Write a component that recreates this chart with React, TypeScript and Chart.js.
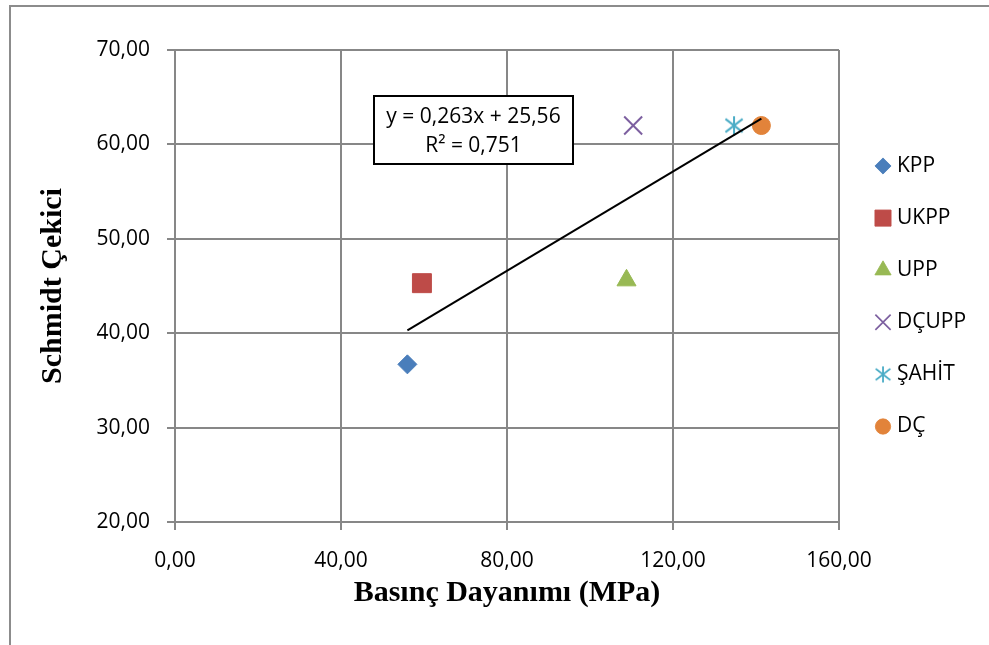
import React, { useEffect, useRef } from 'react';
import { Chart, registerables } from 'chart.js';
import { drawPoint } from 'chart.js/helpers';

Chart.register(...registerables);

// ---- data ----
const SERIES_NAMES = ['KPP', 'UKPP', 'UPP', 'DÇUPP', 'ŞAHİT', 'DÇ'];
const X_VALUES = [56.0, 59.5, 108.8, 110.4, 134.7, 141.3]; // Basınç Dayanımı (MPa)
const Y_VALUES = [36.7, 45.3, 45.6, 62.0, 62.0, 62.0]; // Schmidt Çekici
const X_TICKS = [0, 40, 80, 120, 160];
const Y_TICKS = [20, 30, 40, 50, 60, 70];
const TREND_SLOPE = 0.263;
const TREND_INTERCEPT = 25.56;
const TREND_LABELS = ['y = 0,263x + 25,56', 'R² = 0,751'];
const X_TITLE = 'Basınç Dayanımı (MPa)';
const Y_TITLE = 'Schmidt Çekici';

// ---- styles ----
const COLORS = ['#4A7EBB', '#BE4B48', '#98B954', '#7D60A0', '#4BACC6', '#E2833A'];
const GRID = '#878787';
const TICK_FONT = { family: "'Open Sans', sans-serif", size: 21 };
const TITLE_FONT = { family: "'Liberation Serif', 'Times New Roman', serif", size: 30, weight: 'bold' as const };

const fmt = (v: number) => v.toFixed(2).replace('.', ',');

function makeAsterisk(color: string, size: number) {
  const c = document.createElement('canvas');
  c.width = size;
  c.height = size;
  const ctx = c.getContext('2d')!;
  ctx.strokeStyle = color;
  ctx.lineWidth = 2;
  const m = size / 2;
  ctx.beginPath();
  ctx.moveTo(m, 0.5);
  ctx.lineTo(m, size - 0.5);
  ctx.moveTo(m - 0.43 * size, m - 0.33 * size);
  ctx.lineTo(m + 0.43 * size, m + 0.33 * size);
  ctx.moveTo(m - 0.43 * size, m + 0.33 * size);
  ctx.lineTo(m + 0.43 * size, m - 0.33 * size);
  ctx.stroke();
  return c;
}

const framePlugin = {
  id: 'frame',
  beforeDraw(chart: any) {
    const { ctx, width, height } = chart;
    ctx.save();
    ctx.fillStyle = '#fff';
    ctx.fillRect(0, 0, width, height);
    ctx.strokeStyle = '#8c8c8c';
    ctx.lineWidth = 2;
    ctx.beginPath();
    ctx.moveTo(10, height);
    ctx.lineTo(10, 6);
    ctx.lineTo(width, 6);
    ctx.stroke();
    ctx.restore();
  },
};

const equationPlugin = {
  id: 'equationBox',
  afterDatasetsDraw(chart: any) {
    const { ctx } = chart;
    const x = 374, y = 96, w = 199, h = 68;
    ctx.save();
    ctx.fillStyle = '#fff';
    ctx.fillRect(x, y, w, h);
    ctx.strokeStyle = '#000';
    ctx.lineWidth = 2;
    ctx.strokeRect(x, y, w, h);
    ctx.fillStyle = '#000';
    ctx.font = `${TICK_FONT.size}px ${TICK_FONT.family}`;
    ctx.textAlign = 'center';
    ctx.textBaseline = 'middle';
    ctx.fillText(TREND_LABELS[0], x + w / 2, y + 21);
    ctx.fillText(TREND_LABELS[1], x + w / 2, y + 50);
    ctx.restore();
  },
};

const sideLegendPlugin = {
  id: 'sideLegend',
  afterDraw(chart: any) {
    const { ctx } = chart;
    const items = chart.data.datasets.filter((d: any) => !d.isTrend);
    ctx.save();
    items.forEach((ds: any, i: number) => {
      const cy = 166 + i * 52.1;
      ctx.save();
      ctx.translate(883, cy);
      ctx.scale(0.85, 0.85);
      ctx.fillStyle = ds.backgroundColor;
      ctx.strokeStyle = ds.borderColor;
      ctx.lineWidth = ds.pointBorderWidth;
      drawPoint(ctx, { pointStyle: ds.pointStyle, radius: ds.pointRadius, rotation: 0, borderWidth: ds.pointBorderWidth } as any, 0, 0);
      ctx.restore();
      ctx.fillStyle = '#000';
      ctx.font = `${TICK_FONT.size}px ${TICK_FONT.family}`;
      ctx.textAlign = 'left';
      ctx.textBaseline = 'middle';
      ctx.fillText(ds.label, 897, cy);
    });
    ctx.restore();
  },
};

export default function App() {
  const ref = useRef<HTMLCanvasElement | null>(null);

  useEffect(() => {
    if (!ref.current) return;
    const styles: any[] = [
      { pointStyle: 'rectRot', pointRadius: 9.5, pointBorderWidth: 1 },
      { pointStyle: 'rect', pointRadius: 13.4, pointBorderWidth: 1 },
      { pointStyle: 'triangle', pointRadius: 11, pointBorderWidth: 1 },
      { pointStyle: 'crossRot', pointRadius: 12.7, pointBorderWidth: 2 },
      { pointStyle: makeAsterisk(COLORS[4], 20), pointRadius: 10, pointBorderWidth: 2 },
      { pointStyle: 'circle', pointRadius: 9, pointBorderWidth: 1 },
    ];
    const pointSets = SERIES_NAMES.map((name, i) => ({
      label: name,
      data: [{ x: X_VALUES[i], y: Y_VALUES[i] }],
      backgroundColor: COLORS[i],
      borderColor: COLORS[i],
      ...styles[i],
      pointHoverRadius: styles[i].pointRadius,
      showLine: false,
    }));
    const xMin = Math.min(...X_VALUES);
    const xMax = Math.max(...X_VALUES);
    const trend = {
      label: 'trend',
      isTrend: true,
      type: 'line',
      data: [xMin, xMax].map((x) => ({ x, y: TREND_SLOPE * x + TREND_INTERCEPT })),
      borderColor: '#000',
      backgroundColor: '#000',
      borderWidth: 2,
      pointRadius: 0,
      showLine: true,
      fill: false,
      order: -1,
    };

    const chart = new Chart(ref.current, {
      type: 'scatter',
      data: { datasets: [...pointSets, trend] as any },
      options: {
        responsive: false,
        animation: false,
        devicePixelRatio: 1,
        layout: { padding: { left: 0, top: 50, right: 150, bottom: 0 } },
        plugins: { legend: { display: false }, tooltip: { enabled: false } },
        scales: {
          x: {
            type: 'linear',
            min: X_TICKS[0],
            max: X_TICKS[X_TICKS.length - 1],
            afterBuildTicks: (s: any) => { s.ticks = X_TICKS.map((v) => ({ value: v })); },
            afterFit: (s: any) => { s.height = 123; },
            ticks: { callback: (v: any) => fmt(Number(v)), font: TICK_FONT, color: '#000', padding: 18, maxRotation: 0, autoSkip: false },
            grid: { color: GRID, lineWidth: 2, tickLength: 8, tickColor: GRID, tickWidth: 2 },
            border: { color: GRID, width: 2 },
            title: { display: true, text: X_TITLE, font: TITLE_FONT, color: '#000', padding: { top: 0, bottom: 34 } },
          },
          y: {
            type: 'linear',
            min: Y_TICKS[0],
            max: Y_TICKS[Y_TICKS.length - 1],
            afterBuildTicks: (s: any) => { s.ticks = Y_TICKS.map((v) => ({ value: v })); },
            afterFit: (s: any) => { s.width = 175; },
            ticks: { callback: (v: any) => fmt(Number(v)), font: TICK_FONT, color: '#000', padding: 17, autoSkip: false },
            grid: { color: GRID, lineWidth: 2, tickLength: 8, tickColor: GRID, tickWidth: 2 },
            border: { color: GRID, width: 2 },
            title: { display: true, text: Y_TITLE, font: TITLE_FONT, color: '#000', padding: { top: 35, bottom: 0 } },
          },
        },
      },
      plugins: [framePlugin, equationPlugin, sideLegendPlugin],
    } as any);
    return () => chart.destroy();
  }, []);

  return (
    <div style={{ position: 'fixed', left: 0, top: 0, width: 989, height: 645, background: '#fff' }}>
      <canvas ref={ref} width={989} height={645} style={{ display: 'block' }} />
    </div>
  );
}
